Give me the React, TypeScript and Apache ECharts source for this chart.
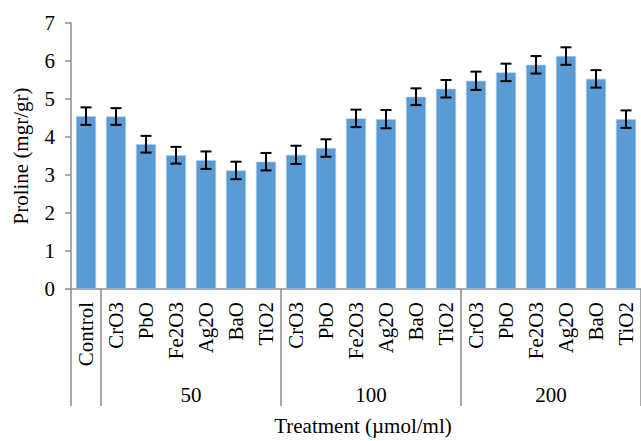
import React, { useEffect, useRef } from "react";
import * as echarts from "echarts";

const categories = [
  "Control",
  "CrO3", "PbO", "Fe2O3", "Ag2O", "BaO", "TiO2",
  "CrO3", "PbO", "Fe2O3", "Ag2O", "BaO", "TiO2",
  "CrO3", "PbO", "Fe2O3", "Ag2O", "BaO", "TiO2",
];
const prolineValues = [
  4.55,
  4.54, 3.81, 3.52, 3.39, 3.12, 3.35,
  3.53, 3.71, 4.49, 4.47, 5.06, 5.27,
  5.48, 5.70, 5.90, 6.13, 5.53, 4.47,
];
const prolineErrors = [
  0.23,
  0.22, 0.22, 0.22, 0.23, 0.23, 0.23,
  0.24, 0.23, 0.23, 0.24, 0.22, 0.23,
  0.24, 0.23, 0.23, 0.23, 0.23, 0.23,
];
const groupLabels = ["", "50", "100", "200"];
const groupSizes = [1, 6, 6, 6];
const yTicks = [0, 1, 2, 3, 4, 5, 6, 7];

const FONT = '"Liberation Serif", "Times New Roman", serif';
const AXIS_GRAY = "#8c8c8c";

export default function App() {
  const ref = useRef<HTMLDivElement>(null);
  useEffect(() => {
    if (!ref.current) return;
    const chart = echarts.init(ref.current, null, { renderer: "svg" });

    const boundaries: number[] = [0];
    const centers: number[] = [];
    const centerLabel: Record<string, string> = {};
    let acc = 0;
    groupSizes.forEach((s, i) => {
      const c = acc + s / 2;
      acc += s;
      boundaries.push(acc);
      if (groupLabels[i]) {
        centers.push(c);
        centerLabel[String(c)] = groupLabels[i];
      }
    });

    const errData = prolineValues.map((v, i) => [i, v - prolineErrors[i], v + prolineErrors[i]]);

    chart.setOption({
      animation: false,
      textStyle: { fontFamily: FONT },
      grid: { left: 71, right: 0, top: 23, bottom: 146, containLabel: false },
      xAxis: [
        {
          type: "category",
          data: categories,
          boundaryGap: true,
          axisLine: { show: true, lineStyle: { color: AXIS_GRAY, width: 1.5 } },
          axisTick: { show: false },
          axisLabel: {
            rotate: 90,
            interval: 0,
            margin: 13,
            fontSize: 21,
            color: "#000",
            fontFamily: FONT,
          },
          splitLine: { show: false },
        },
        {
          type: "value",
          min: 0,
          max: categories.length,
          position: "bottom",
          axisLine: { show: false },
          axisTick: {
            show: true,
            length: 117,
            customValues: boundaries,
            lineStyle: { color: AXIS_GRAY, width: 1.5 },
          },
          axisLabel: {
            show: true,
            customValues: centers,
            margin: 95,
            fontSize: 21,
            color: "#000",
            fontFamily: FONT,
            formatter: (v: number) => centerLabel[String(v)] ?? "",
          },
          splitLine: { show: false },
          name: "Treatment (µmol/ml)",
          nameLocation: "middle",
          nameGap: 126,
          nameTextStyle: { fontSize: 21, color: "#000", fontFamily: FONT, padding: [0, 0, 0, 14] },
        },
      ],
      yAxis: {
        type: "value",
        min: 0,
        max: 7,
        interval: 1,
        axisLine: { show: true, lineStyle: { color: AXIS_GRAY, width: 1.5 } },
        axisTick: { show: true, length: 6, lineStyle: { color: AXIS_GRAY, width: 1.5 } },
        axisLabel: {
          margin: 16,
          fontSize: 21,
          color: "#000",
          fontFamily: FONT,
          formatter: (v: number) => (yTicks.includes(v) ? String(v) : ""),
        },
        splitLine: { show: false },
        name: "Proline (mgr/gr)",
        nameLocation: "middle",
        nameGap: 40,
        nameTextStyle: { fontSize: 21, color: "#000", fontFamily: FONT },
      },
      series: [
        {
          type: "bar",
          xAxisIndex: 0,
          data: prolineValues,
          barWidth: 20,
          itemStyle: { color: "#5B9BD5", borderColor: "#a9c8e8", borderWidth: 0.6 },
        },
        {
          type: "custom",
          xAxisIndex: 0,
          data: errData,
          z: 5,
          renderItem: (_params: any, api: any) => {
            const x = api.value(0);
            const lo = api.coord([x, api.value(1)]);
            const hi = api.coord([x, api.value(2)]);
            const hw = 5.5;
            const style = { stroke: "#000", lineWidth: 2 };
            return {
              type: "group",
              children: [
                { type: "line", shape: { x1: lo[0], y1: lo[1], x2: hi[0], y2: hi[1] }, style },
                { type: "line", shape: { x1: lo[0] - hw, y1: lo[1], x2: lo[0] + hw, y2: lo[1] }, style },
                { type: "line", shape: { x1: hi[0] - hw, y1: hi[1], x2: hi[0] + hw, y2: hi[1] }, style },
              ],
            };
          },
        },
      ],
    });
    return () => chart.dispose();
  }, []);

  return <div ref={ref} style={{ width: 641, height: 441, position: "absolute", left: 0, top: 0 }} />;
}
